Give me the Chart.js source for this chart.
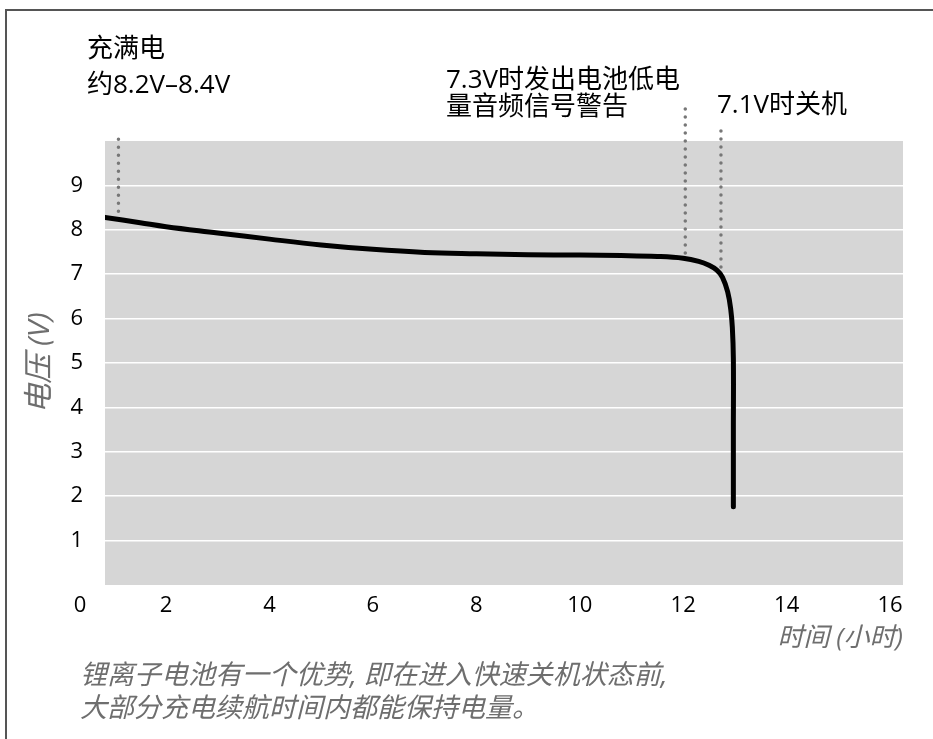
<!DOCTYPE html>
<html>
<head>
<meta charset="utf-8">
<script src="https://cdn.jsdelivr.net/npm/chart.js@4/dist/chart.umd.min.js"></script>
<style>
    html, body { margin: 0; padding: 0; background: #fff; }
    body { width: 933px; height: 739px; position: relative; overflow: hidden; }
    #frame { position: absolute; left: 5px; top: 9px; right: 0; bottom: 0;
             border-left: 2px solid #555; border-top: 2px solid #555; }
    #wrap { position: absolute; left: 0; top: 0; width: 933px; height: 739px; }
</style>
</head>
<body>
<div id="frame"></div>
<div id="wrap"><canvas id="grafico" width="933" height="739"></canvas></div>
<script>
// Datos
const horas   = [0.82, 1.5, 2, 3, 4, 5, 6, 7, 8, 9, 10, 10.8, 11.5, 12.0, 12.3, 12.5, 12.65, 12.76, 12.86, 12.92, 12.95, 12.97, 12.97, 12.97];
const voltios = [8.28, 8.16, 8.07, 7.93, 7.79, 7.66, 7.56, 7.49, 7.46, 7.44, 7.43, 7.42, 7.40, 7.36, 7.29, 7.2, 7.09, 6.93, 6.6, 6.2, 5.8, 5.1, 3.5, 1.76];

const xTicks = [2, 4, 6, 8, 10, 12, 14, 16];
const yTicks = [1, 2, 3, 4, 5, 6, 7, 8, 9];

// Líneas punteadas de las notas: [hora, voltaje inferior, voltaje superior]
const notasHora  = [1.08, 12.04, 12.73];
const notasDesde = [8.42, 7.48, 7.16];
const notasHasta = [10.06, 10.9, 10.26];

const notasTexto = [
    ['充满电', '约8.2V–8.4V'],
    ['7.3V时发出电池低电', '量音频信号警告'],
    ['7.1V时关机']
];

const FUENTE = '"Open Sans", "Noto Sans CJK SC", sans-serif';

const serie = horas.map((h, i) => ({ x: h, y: voltios[i] }));

const punteadas = notasHora.map((h, i) => ({
    data: [{ x: h, y: notasDesde[i] }, { x: h, y: notasHasta[i] }],
    borderColor: '#777',
    borderWidth: 3.5,
    borderDash: [0, 8],
    borderCapStyle: 'round',
    pointRadius: 0,
    clip: false,
    order: 2
}));

// Fondo gris del área y textos extra
const extras = {
    id: 'extras',
    beforeDraw(chart) {
        const { ctx, chartArea: a } = chart;
        ctx.save();
        ctx.fillStyle = '#d6d6d6';
        ctx.fillRect(a.left, a.top, a.right - a.left, a.bottom - a.top);
        ctx.restore();
    },
    afterDraw(chart) {
        const ctx = chart.ctx;
        ctx.save();
        ctx.textBaseline = 'middle';
        ctx.fillStyle = '#000';
        // "0" en la esquina
        ctx.font = '22px ' + FUENTE;
        ctx.textAlign = 'center';
        ctx.fillText('0', 80, 606);
        // notas
        ctx.font = '26px ' + FUENTE;
        ctx.textAlign = 'left';
        ctx.fillText(notasTexto[0][0], 87, 50);
        ctx.fillText(notasTexto[0][1], 87, 86);
        ctx.fillText(notasTexto[1][0], 446, 81);
        ctx.fillText(notasTexto[1][1], 446, 108);
        ctx.fillText(notasTexto[2][0], 717, 106);
        // pie
        ctx.fillStyle = '#6e6e6e';
        ctx.font = 'italic 27px ' + FUENTE;
        ctx.fillText('锂离子电池有一个优势, 即在进入快速关机状态前,', 80, 676);
        ctx.fillText('大部分充电续航时间内都能保持电量。', 80, 709);
        ctx.restore();
    }
};

new Chart(document.getElementById('grafico'), {
    type: 'line',
    data: {
        datasets: [{
            data: serie,
            borderColor: '#000',
            borderWidth: 5,
            borderCapStyle: 'round',
            borderJoinStyle: 'round',
            tension: 0.4,
            pointRadius: 0,
            order: 1
        }].concat(punteadas)
    },
    options: {
        responsive: false,
        animation: false,
        devicePixelRatio: 1,
        layout: { padding: { left: 10, top: 141, right: 30, bottom: 85 } },
        plugins: { legend: { display: false }, tooltip: { enabled: false } },
        scales: {
            x: {
                type: 'linear',
                min: 0.82,
                max: 16.25,
                afterBuildTicks: s => { s.ticks = xTicks.map(v => ({ value: v })); },
                afterFit: s => { s.height = 69; },
                grid: { display: false },
                border: { display: false },
                ticks: { color: '#000', padding: 0, font: { family: FUENTE, size: 22 } },
                title: {
                    display: true,
                    text: '时间 (小时)',
                    align: 'end',
                    color: '#6e6e6e',
                    padding: { top: 0, bottom: 0 },
                    font: { family: FUENTE, size: 26, style: 'italic' }
                }
            },
            y: {
                min: 0,
                max: 10,
                afterBuildTicks: s => { s.ticks = yTicks.map(v => ({ value: v })); },
                afterFit: s => { s.width = 95; },
                grid: { color: '#fff', lineWidth: 1.5, drawTicks: false },
                border: { display: false },
                ticks: { color: '#000', padding: 22, font: { family: FUENTE, size: 22 } },
                title: {
                    display: true,
                    text: '电压 (V)',
                    color: '#6e6e6e',
                    padding: { top: 12, bottom: 0 },
                    font: { family: FUENTE, size: 30, style: 'italic' }
                }
            }
        }
    },
    plugins: [extras]
});
</script>
</body>
</html>
